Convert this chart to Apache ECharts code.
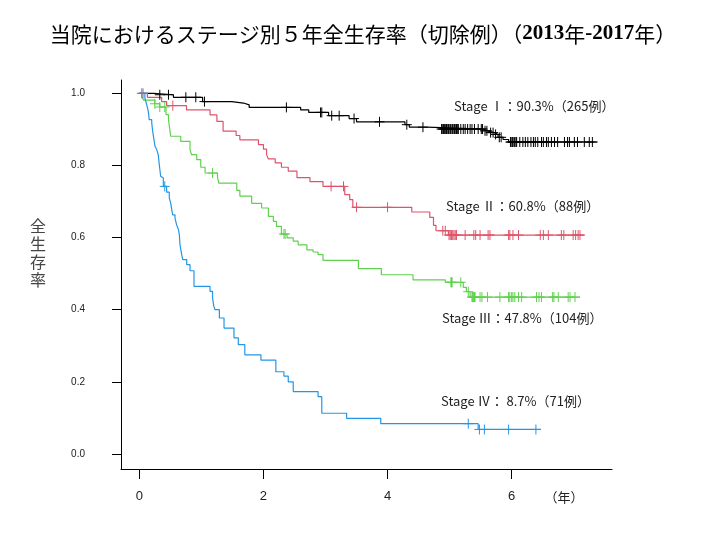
<!DOCTYPE html>
<html><head><meta charset="utf-8">
<script src="https://cdn.jsdelivr.net/npm/echarts@6/dist/echarts.min.js"></script>
<style>html,body{margin:0;padding:0;background:#fff}#c{width:706px;height:549px}</style>
</head><body><div id="c"></div>
<script>
// ---- data ----
const xTicks = [0, 2, 4, 6];
const yTicks = [0, 0.2, 0.4, 0.6, 0.8, 1.0];

const stage1Time = [0, 0.23, 0.55, 1.02, 1.49, 1.68, 1.77, 2.60, 2.73, 3.05, 3.38, 3.50, 4.28, 4.35, 4.63, 5.54, 5.61, 5.72, 5.78, 5.86, 5.95, 7.38];
const stage1Surv = [1.0, 0.996, 0.989, 0.977, 0.973, 0.968, 0.961, 0.954, 0.947, 0.938, 0.930, 0.921, 0.913, 0.906, 0.901, 0.896, 0.891, 0.886, 0.878, 0.872, 0.865, 0.865];
const stage1Censor = [0.33, 0.47, 0.75, 0.91, 1.05, 2.37, 2.92, 2.94, 3.10, 3.22, 3.46, 3.87, 4.31, 4.57,
  4.87, 4.89, 4.90, 4.92, 4.93, 4.95, 4.96, 4.98, 4.99, 5.01, 5.02, 5.04, 5.05, 5.07, 5.08, 5.10, 5.11, 5.13, 5.14,
  5.18, 5.22, 5.25, 5.29, 5.33, 5.36, 5.40, 5.46, 5.51, 5.53, 5.57, 5.60, 5.66, 5.70, 5.74, 5.80, 5.83,
  5.98, 5.99, 6.01, 6.02, 6.04, 6.05, 6.07, 6.08, 6.13, 6.18, 6.22, 6.26, 6.31, 6.35, 6.38, 6.42, 6.48, 6.51,
  6.56, 6.59, 6.64, 6.69, 6.74, 6.85, 6.90, 6.93, 7.01, 7.06, 7.17, 7.25, 7.30];

const stage2Time = [0, 0.13, 0.36, 0.44, 0.76, 1.14, 1.25, 1.35, 1.56, 1.62, 1.92, 2.00, 2.05, 2.08, 2.19, 2.29, 2.40, 2.54, 2.75, 2.96, 3.31, 3.39, 3.44, 4.39, 4.68, 4.74, 4.78, 4.98, 7.17];
const stage2Surv = [1.0, 0.989, 0.977, 0.966, 0.954, 0.940, 0.922, 0.895, 0.883, 0.871, 0.858, 0.845, 0.830, 0.818, 0.807, 0.795, 0.784, 0.766, 0.755, 0.742, 0.719, 0.705, 0.684, 0.671, 0.656, 0.634, 0.619, 0.607, 0.607];
const stage2Censor = [0.06, 0.54, 3.09, 3.29, 3.50, 4.00, 4.89, 4.93, 4.99, 5.01, 5.03, 5.05, 5.07, 5.09, 5.11, 5.25, 5.39, 5.42, 5.49, 5.62, 5.65, 5.95, 5.97, 6.02, 6.11, 6.46, 6.51, 6.59, 6.80, 6.84, 6.99, 7.03, 7.07, 7.10];

const stage3Time = [0, 0.04, 0.07, 0.25, 0.33, 0.43, 0.47, 0.495, 0.505, 0.667, 0.817, 0.84, 0.925, 0.99, 1.06, 1.26, 1.28, 1.57, 1.62, 1.81, 1.97, 2.08, 2.16, 2.21, 2.29, 2.38, 2.48, 2.56, 2.70, 2.80, 2.88, 2.96, 3.53, 3.90, 4.41, 4.93, 5.22, 5.27, 5.33, 7.10];
const stage3Surv = [1.0, 0.990, 0.981, 0.971, 0.962, 0.941, 0.927, 0.895, 0.881, 0.867, 0.844, 0.830, 0.816, 0.795, 0.779, 0.767, 0.751, 0.731, 0.715, 0.695, 0.682, 0.659, 0.645, 0.631, 0.610, 0.599, 0.590, 0.580, 0.566, 0.560, 0.553, 0.537, 0.514, 0.497, 0.483, 0.476, 0.462, 0.450, 0.435, 0.435];
const stage3Censor = [0.25, 0.33, 0.41, 1.18, 2.33, 2.35, 5.02, 5.03, 5.04, 5.18, 5.30, 5.36, 5.37, 5.38, 5.39, 5.40, 5.41, 5.49, 5.52, 5.61, 5.81, 5.95, 5.97, 6.00, 6.02, 6.05, 6.11, 6.16, 6.40, 6.44, 6.48, 6.66, 6.68, 6.75, 6.91, 6.94, 7.02];

const stage4Time = [0, 0.09, 0.12, 0.145, 0.16, 0.20, 0.215, 0.237, 0.253, 0.28, 0.305, 0.322, 0.344, 0.37, 0.387, 0.44, 0.483, 0.505, 0.537, 0.575, 0.60, 0.63, 0.645, 0.656, 0.683, 0.70, 0.764, 0.817, 0.881, 1.139, 1.18, 1.20, 1.22, 1.29, 1.365, 1.525, 1.595, 1.70, 1.96, 2.20, 2.33, 2.40, 2.48, 2.88, 2.94, 3.34, 3.89, 5.46, 6.47];
const stage4Surv = [1.0, 0.987, 0.968, 0.950, 0.927, 0.918, 0.895, 0.871, 0.853, 0.844, 0.830, 0.802, 0.770, 0.765, 0.742, 0.726, 0.710, 0.696, 0.663, 0.654, 0.636, 0.622, 0.608, 0.580, 0.553, 0.539, 0.525, 0.508, 0.465, 0.451, 0.432, 0.410, 0.400, 0.377, 0.349, 0.322, 0.303, 0.275, 0.260, 0.228, 0.216, 0.200, 0.173, 0.159, 0.113, 0.099, 0.084, 0.068, 0.068];
const stage4Censor = [0.04, 0.41, 5.30, 5.48, 5.56, 5.95, 6.39];

const stageLabels = ['Stage Ⅰ：90.3%（265例）', 'Stage Ⅱ：60.8%（88例）', 'Stage Ⅲ：47.8%（104例）', 'Stage Ⅳ： 8.7%（71例）'];
const titleMain = '当院におけるステージ別５年全生存率（切除例）';
const titleYears = ['2013', '年', '-2017', '年'];
const yAxisName = '全生存率';
const xUnit = '（年）';

// ---- chart ----
const colors = ['#000000', '#DF536B', '#61D04F', '#2297E6'];
const stages = [
  [stage1Time, stage1Surv, stage1Censor],
  [stage2Time, stage2Surv, stage2Censor],
  [stage3Time, stage3Surv, stage3Censor],
  [stage4Time, stage4Surv, stage4Censor]
];
function survAt(times, surv, t) {
  let s = surv[0];
  for (let i = 0; i < times.length; i++) { if (times[i] <= t) s = surv[i]; else break; }
  return s;
}
const series = [];
stages.forEach((st, k) => {
  const [tm, sv, cs] = st;
  series.push({
    type: 'line', step: 'end', symbol: 'none', silent: true,
    data: tm.map((t, i) => [t, sv[i]]),
    lineStyle: { color: colors[k], width: 1.2 }, z: 3
  });
  series.push({
    type: 'scatter', silent: true,
    symbol: 'path://M0,5H10M5,0V10', symbolSize: 10,
    data: cs.map(t => [t, survAt(tm, sv, t)]),
    itemStyle: { color: 'none', borderColor: colors[k], borderWidth: 1, opacity: 1 }, z: 4
  });
});

const chart = echarts.init(document.getElementById('c'), null, { renderer: 'canvas' });
const labelPos = [[454, 106], [446, 206], [442, 318], [441, 401]];
chart.setOption({
  animation: false,
  backgroundColor: '#ffffff',
  grid: { left: 121, top: 80, width: 491, height: 389, containLabel: false },
  xAxis: {
    type: 'value', min: -0.295, max: 7.616,
    axisLine: { show: true, onZero: false, lineStyle: { color: '#000', width: 1 } },
    axisTick: { show: true, customValues: xTicks, length: 10, lineStyle: { color: '#000', width: 1 } },
    axisLabel: { show: true, customValues: xTicks, margin: 21, fontSize: 13, color: '#222', fontFamily: 'Liberation Sans' },
    splitLine: { show: false }
  },
  yAxis: {
    type: 'value', min: -0.0416, max: 1.0369,
    axisLine: { show: true, onZero: false, lineStyle: { color: '#000', width: 1 } },
    axisTick: { show: true, customValues: yTicks, length: 9, lineStyle: { color: '#000', width: 1 } },
    axisLabel: { show: true, customValues: yTicks, margin: 36, fontSize: 10, color: '#222', fontFamily: 'Liberation Sans', formatter: v => v.toFixed(1) },
    splitLine: { show: false }
  },
  series: series,
  graphic: [
    {
      type: 'text', x: 363, y: 34,
      style: {
        text: '{a|' + titleMain + '（}{b|' + titleYears[0] + '}{a|' + titleYears[1] + '}{b|' + titleYears[2] + '}{a|' + titleYears[3] + '）}',
        align: 'center', verticalAlign: 'middle',
        rich: {
          a: { fontSize: 21, fontFamily: 'Noto Sans CJK JP', fill: '#000' },
          b: { fontSize: 21, fontFamily: 'Liberation Sans Narrow', fontWeight: 'bold', fill: '#000' }
        }
      }
    },
    {
      type: 'text', x: 38, y: 253,
      style: { text: yAxisName.split('').join('\n'), fontSize: 16, lineHeight: 18, fontFamily: 'Noto Sans CJK JP', fill: '#444', align: 'center', verticalAlign: 'middle' }
    },
    {
      type: 'text', x: 564, y: 497,
      style: { text: xUnit, fontSize: 13, fontFamily: 'Noto Sans CJK JP', fill: '#222', align: 'center', verticalAlign: 'middle' }
    }
  ].concat(stageLabels.map((s, i) => ({
    type: 'text', x: labelPos[i][0], y: labelPos[i][1],
    style: { text: s, fontSize: 13, fontFamily: 'Noto Sans CJK JP', fill: '#222', align: 'left', verticalAlign: 'middle' }
  })))
});
</script></body></html>
